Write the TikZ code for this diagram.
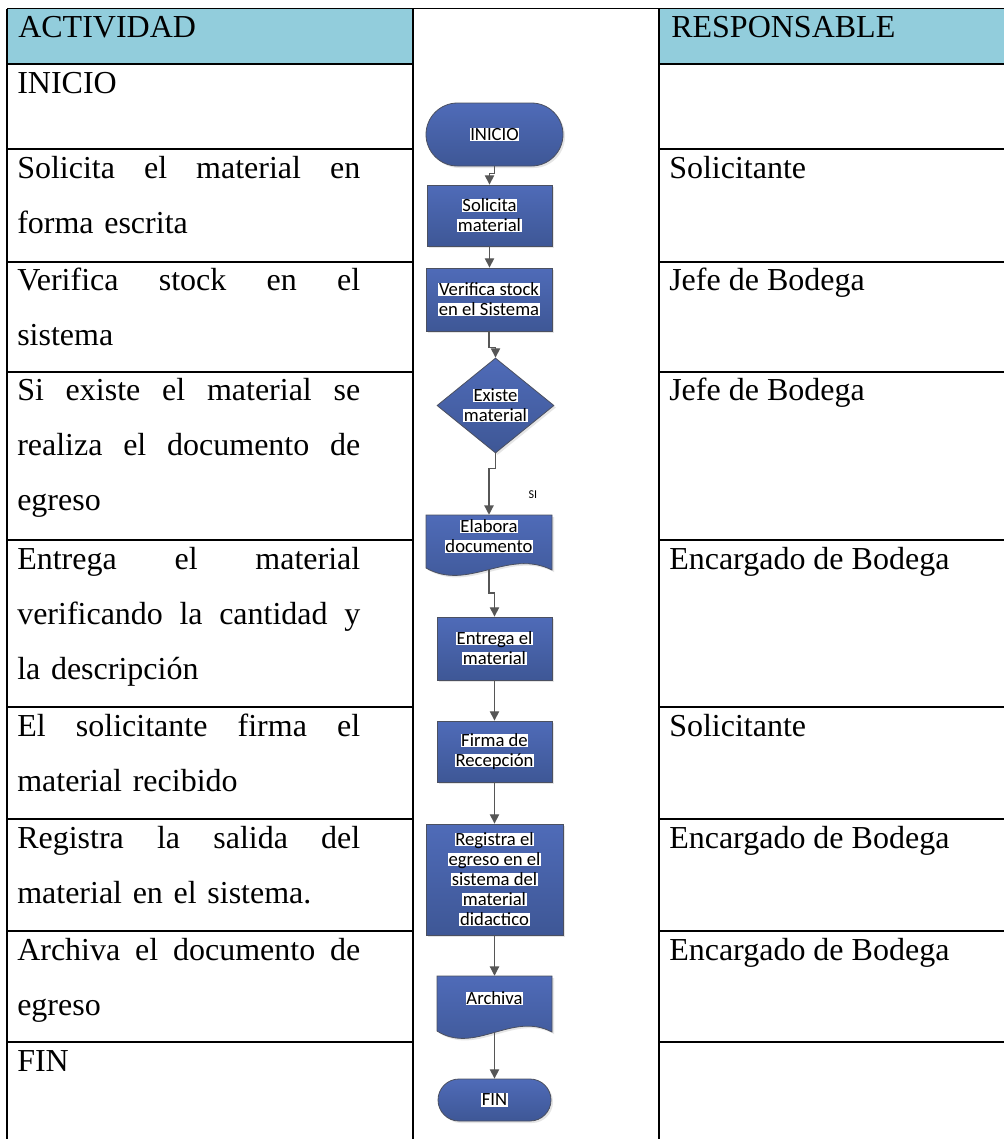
\documentclass[tikz,border=0pt]{standalone}
\usepackage{fontspec}
\setmainfont{Liberation Serif}
\newfontfamily\flowfont{Carlito}
\usetikzlibrary{shapes.geometric,shapes.misc,shadows,arrows.meta}
\definecolor{headblue}{HTML}{92CDDC}
\definecolor{shapetop}{HTML}{4F6BB8}
\definecolor{shapebot}{HTML}{3E5796}
\definecolor{shapeedge}{HTML}{4B5060}
\definecolor{linkgray}{HTML}{565656}
\pgfdeclarelayer{paper}
\pgfdeclarelayer{background}
\pgfsetlayers{paper,background,main}

% white highlight strip behind one line of shape text
\newcommand\hlt[1]{%
  \setbox0=\hbox{#1}%
  \leavevmode\rlap{\kern-0.5pt\textcolor{white}{\rule[-0.5pt]{\dimexpr\wd0+1pt\relax}{9.8pt}}}%
  \box0}

\tikzset{
  grid line/.style={line width=1pt, black},
  cell/.style={inner sep=0pt, anchor=base west, font=\fontsize{24}{41.5}\selectfont},
  cellpar/.style={cell, text width=257.25pt, align=left},
  flow/.style={inner sep=0pt, align=center, font=\flowfont\fontsize{14}{15}\selectfont},
  shaded/.style={draw=shapeedge, line width=0.6pt, top color=shapetop, bottom color=shapebot,
    drop shadow={shadow xshift=1.5pt, shadow yshift=-1.5pt, fill=black!20}},
  procbox/.style={flow, shaded, rectangle},
  term/.style={flow, shaded, rounded rectangle},
  decision/.style={flow, shaded, diamond, aspect=1.23},
  docbox/.style={flow, rectangle, execute at end node={\rule[-8pt]{0pt}{0pt}}},
  link/.style={draw=linkgray, line width=0.9pt, -{Triangle[length=7pt,width=7pt]}},
}

\begin{document}
\begin{tikzpicture}[x=0.75pt, y=-0.75pt]
\useasboundingbox (0,0) rectangle (1004,1139);
\begin{pgfonlayer}{paper}
  \fill[white] (0,0) rectangle (1004,1139);
\end{pgfonlayer}

% ---------- table ----------
\fill[headblue] (7,8.5) rectangle (413,64);
\fill[headblue] (659,8.5) rectangle (1004,64);
\draw[grid line] (7,8.5) -- (1004,8.5);
\draw[grid line] (7,8.5) -- (7,1139);
\draw[grid line] (413,8.5) -- (413,1139);
\draw[grid line] (659,8.5) -- (659,1139);
\foreach \yy in {64,149,262,372,540,707,819,931,1042}{
  \draw[grid line] (7,\yy) -- (413,\yy);
  \draw[grid line] (659,\yy) -- (1004,\yy);
}

% activity column
\node[cell] (hact) at (18,37) {ACTIVIDAD};
\node[cell] (a1) at (17,93) {INICIO};
\node[cellpar] (a2) at (17,178) {Solicita\hfill el\hfill material\hfill en\\forma escrita};
\node[cellpar] (a3) at (17,290) {Verifica\hfill stock\hfill en\hfill el\\sistema};
\node[cellpar] (a4) at (17,400) {Si\hfill existe\hfill el\hfill material\hfill se\\realiza\hfill el\hfill documento\hfill de\\egreso};
\node[cellpar] (a5) at (17,569) {Entrega\hfill el\hfill material\\verificando\hfill la\hfill cantidad\hfill y\\la descripción};
\node[cellpar] (a6) at (17,736) {El\hfill solicitante\hfill firma\hfill el\\material recibido};
\node[cellpar] (a7) at (17,848) {Registra\hfill la\hfill salida\hfill del\\material en el sistema.};
\node[cellpar] (a8) at (17,960) {Archiva\hfill el\hfill documento\hfill de\\egreso};
\node[cell] (a9) at (17,1071) {FIN};

% responsible column
\node[cell] (hres) at (671,37) {RESPONSABLE};
\node[cell] (r2) at (669,178) {Solicitante};
\node[cell] (r3) at (669,290) {Jefe de Bodega};
\node[cell] (r4) at (669,400) {Jefe de Bodega};
\node[cell] (r5) at (669,569) {Encargado de Bodega};
\node[cell] (r6) at (669,736) {Solicitante};
\node[cell] (r7) at (669,848) {Encargado de Bodega};
\node[cell] (r8) at (669,960) {Encargado de Bodega};

% ---------- flowchart ----------
\node[term, minimum width=102.75pt, minimum height=47.25pt] (inicio) at (494.5,134.5) {\hlt{INICIO}};
\node[procbox, minimum width=93.75pt, minimum height=45.75pt] (solic) at (489.5,215.5) {\hlt{Solicita}\\\hlt{material}};
\node[procbox, minimum width=94.5pt, minimum height=47.25pt] (verif) at (489,299.5) {\hlt{Verifica stock}\\\hlt{en el Sistema}};
\node[decision, minimum width=87.75pt, minimum height=71.25pt] (exist) at (495.5,405.5) {\hlt{Existe}\\\hlt{material}};
\node[docbox, minimum width=94.5pt, minimum height=39.75pt] (elab) at (489,541.5) {\hlt{Elabora}\\\hlt{documento}};
\node[procbox, minimum width=86.25pt, minimum height=47.25pt] (entr) at (494.5,648.5) {\hlt{Entrega el}\\\hlt{material}};
\node[procbox, minimum width=86.25pt, minimum height=45.75pt] (firma) at (494.5,751.5) {\hlt{Firma de}\\\hlt{Recepción}};
\node[procbox, minimum width=102.75pt, minimum height=83.25pt] (regis) at (494.5,879.5) {\hlt{Registra el}\\\hlt{egreso en el}\\\hlt{sistema del}\\\hlt{material}\\\hlt{didactico}};
\node[docbox, minimum width=86.25pt, minimum height=41.25pt] (arch) at (494.5,1003.5) {\hlt{Archiva}};
\node[term, minimum width=84.75pt, minimum height=31.5pt] (fin) at (494.5,1100) {\hlt{FIN}};

% document outlines with wavy lower edge
\begin{pgfonlayer}{background}
  \path[shaded] (426,515) -- (552,515) -- (552,570)
    .. controls (508,548) and (468,592) .. (426,568) -- cycle;
  \path[shaded] (437,976) -- (552,976) -- (552,1032)
    .. controls (512,1011) and (475,1055) .. (437,1031) -- cycle;
\end{pgfonlayer}
\coordinate (elab-foot) at (489,570);
\coordinate (arch-foot) at (494.5,1032.5);

\node[font=\flowfont\fontsize{9}{10}\selectfont, inner sep=0pt] (si) at (533,495) {SI};

% connectors
\draw[link] (inicio.south) -- ++(0,7) -| (solic.north);
\draw[link] (solic.south) -- (solic.south |- verif.north);
\draw[link] (verif.south) -- ++(0,16) -| (exist.north);
\draw[link] (exist.south) -- ++(0,15) -| (elab.north);
\draw[link] (elab-foot) -- ++(0,23) -| (entr.north);
\draw[link] (entr.south) -- (firma.north);
\draw[link] (firma.south) -- (regis.north);
\draw[link] (regis.south) -- (arch.north);
\draw[link] (arch-foot) -- (fin.north);
\end{tikzpicture}
\end{document}
